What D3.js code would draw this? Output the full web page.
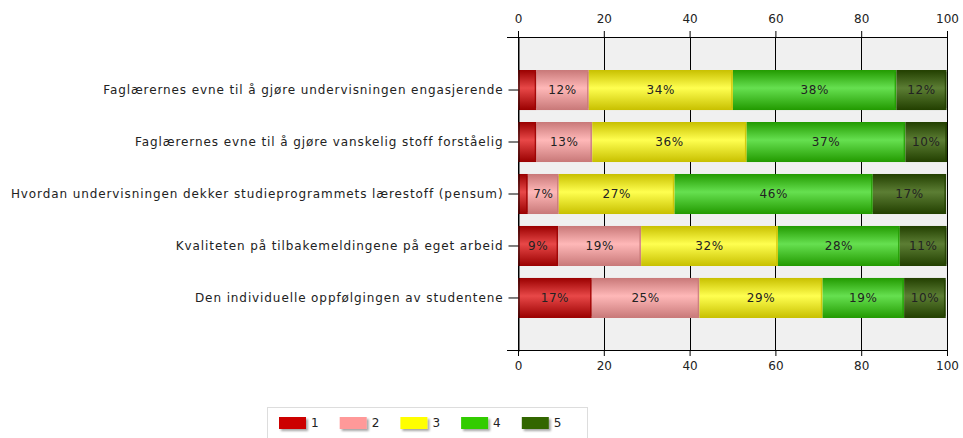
<!DOCTYPE html>
<html>
<head>
<meta charset="utf-8">
<script src="https://cdn.jsdelivr.net/npm/d3@7"></script>
<style>
  body { margin: 0; background: #fff; }
  text { font-family: "DejaVu Sans", Verdana, sans-serif; fill: #222; }
</style>
</head>
<body>
<div id="chart"></div>
<script>
// categories (top to bottom)
var categories = [
  "Faglærernes evne til å gjøre undervisningen engasjerende",
  "Faglærernes evne til å gjøre vanskelig stoff forståelig",
  "Hvordan undervisningen dekker studieprogrammets lærestoff (pensum)",
  "Kvaliteten på tilbakemeldingene på eget arbeid",
  "Den individuelle oppfølgingen av studentene"
];
// share of answers (%) per score
var score1 = [4.3, 4.3, 2.3, 9.4, 17.2];
var score2 = [12.2, 13.0, 7.2, 19.3, 25.1];
var score3 = [33.6, 36.0, 27.0, 31.9, 28.7];
var score4 = [38.1, 37.0, 46.2, 28.4, 19.0];
var score5 = [11.7, 9.7, 17.1, 10.9, 9.7];
var seriesNames = ["1", "2", "3", "4", "5"];
var xTicks = [0, 20, 40, 60, 80, 100];

var colors = ["#cc0000", "#ff9999", "#ffff00", "#33cc00", "#336600"];
var edge   = ["#9a0000", "#c87878", "#c8c000", "#229a00", "#223f00"];
var light  = ["#e84848", "#ffb8b8", "#ffff50", "#66e050", "#5c7e34"];

var width = 963, height = 438;
var margin = {top: 37, right: 16, bottom: 87, left: 518};
var w = 947 - margin.left, h = 351 - margin.top;

var rows = categories.map(function(c, i) {
  return {cat: c, "1": score1[i], "2": score2[i], "3": score3[i], "4": score4[i], "5": score5[i]};
});
var stack = d3.stack().keys(seriesNames)(rows);

var x = d3.scaleLinear().domain([0, 100]).range([0, w]);
var y = d3.scaleBand().domain(categories).range([0, h])
    .paddingInner(0.23).paddingOuter(0.635);

var svg = d3.select("#chart").append("svg")
    .attr("width", width).attr("height", height);

var defs = svg.append("defs");
seriesNames.forEach(function(s, i) {
  var g = defs.append("linearGradient").attr("id", "grad" + i)
      .attr("x1", 0).attr("y1", 0).attr("x2", 0).attr("y2", 1);
  g.append("stop").attr("offset", "0%").attr("stop-color", edge[i]);
  g.append("stop").attr("offset", "45%").attr("stop-color", light[i]);
  g.append("stop").attr("offset", "100%").attr("stop-color", edge[i]);
});
var f = defs.append("filter").attr("id", "shadow")
    .attr("x", "-20%").attr("y", "-20%").attr("width", "160%").attr("height", "180%");
f.append("feDropShadow").attr("dx", 2).attr("dy", 2).attr("stdDeviation", 1.2)
    .attr("flood-color", "#000").attr("flood-opacity", 0.35);

var g = svg.append("g")
    .attr("transform", "translate(" + margin.left + "," + margin.top + ")");

// plot background
g.append("rect").attr("width", w).attr("height", h).attr("fill", "#f0f0f0");

// vertical grid lines
g.selectAll("line.grid").data(xTicks).enter().append("line")
    .attr("class", "grid")
    .attr("x1", function(d) { return Math.round(x(d)) + 0.5; })
    .attr("x2", function(d) { return Math.round(x(d)) + 0.5; })
    .attr("y1", 0).attr("y2", h)
    .attr("stroke", "#000").attr("stroke-width", 1);

// bars
var layer = g.selectAll("g.layer").data(stack).enter().append("g")
    .attr("class", "layer");
layer.selectAll("rect").data(function(d) { return d; }).enter().append("rect")
    .attr("x", function(d) { return x(d[0]); })
    .attr("y", function(d) { return y(d.data.cat); })
    .attr("width", function(d) { return x(d[1]) - x(d[0]); })
    .attr("height", y.bandwidth())
    .attr("fill", function(d, i, n) { return "url(#grad" + stack.indexOf(d3.select(n[i].parentNode).datum()) + ")"; });

// darker segment edges
layer.selectAll("line").data(function(d) { return d; }).enter().append("line")
    .attr("x1", function(d) { return x(d[1]) - 1; })
    .attr("x2", function(d) { return x(d[1]) - 1; })
    .attr("y1", function(d) { return y(d.data.cat) + 2; })
    .attr("y2", function(d) { return y(d.data.cat) + y.bandwidth() - 2; })
    .attr("stroke", function(d, i, n) { return edge[stack.indexOf(d3.select(n[i].parentNode).datum())]; })
    .attr("stroke-opacity", 0.8)
    .attr("stroke-width", 1.5);

// value labels
layer.selectAll("text").data(function(d) { return d.filter(function(v) { return v[1] - v[0] >= 5; }); })
    .enter().append("text")
    .attr("x", function(d) { return (x(d[0]) + x(d[1])) / 2; })
    .attr("y", function(d) { return y(d.data.cat) + y.bandwidth() / 2; })
    .attr("dy", "0.35em")
    .attr("text-anchor", "middle")
    .style("font-size", "12px")
    .style("letter-spacing", "0.6px")
    .text(function(d) { return Math.round(d[1] - d[0]) + "%"; });

// axes
var xTop = d3.axisTop(x).tickValues(xTicks).tickSize(6).tickSizeOuter(0);
var xBottom = d3.axisBottom(x).tickValues(xTicks).tickSize(5).tickSizeOuter(0);
var topAxis = g.append("g").call(xTop);
var botAxis = g.append("g").attr("transform", "translate(0," + h + ")").call(xBottom);
[topAxis, botAxis].forEach(function(a) {
  a.select(".domain").remove();
  a.selectAll("text").style("font-size", "12px").attr("fill", "#222");
  a.selectAll(".tick line").attr("stroke", "#000");
});
topAxis.selectAll("text").attr("dy", "0").attr("y", -14);
botAxis.selectAll("text").attr("y", 10);

// horizontal axis lines extend left past the plot
g.append("line").attr("x1", -11).attr("x2", w + 0.5).attr("y1", 0.5).attr("y2", 0.5)
    .attr("stroke", "#000");
g.append("line").attr("x1", -11).attr("x2", w + 0.5).attr("y1", h - 0.5).attr("y2", h - 0.5)
    .attr("stroke", "#000");

var yAxis = d3.axisLeft(y).tickSize(10).tickPadding(5).tickSizeOuter(0);
var yg = g.append("g").attr("transform", "translate(0.5,0)").call(yAxis);
yg.select(".domain").attr("stroke", "#000");
yg.selectAll("text").style("font-size", "12px").style("letter-spacing", "0.9px").attr("fill", "#222");
yg.selectAll(".tick line").attr("stroke", "#000");

// legend
var legend = svg.append("g").attr("transform", "translate(267,407)");
legend.append("rect").attr("x", 0.5).attr("y", 0.5).attr("width", 320).attr("height", 40)
    .attr("fill", "#fff").attr("stroke", "#ddd");
var item = legend.selectAll("g.item").data(seriesNames).enter().append("g")
    .attr("class", "item")
    .attr("transform", function(d, i) { return "translate(" + (12 + i * 60.7) + ",10)"; });
item.append("rect").attr("width", 27).attr("height", 12)
    .attr("fill", function(d, i) { return colors[i]; })
    .attr("filter", "url(#shadow)");
item.append("text").attr("x", 32).attr("y", 6).attr("dy", "0.35em")
    .style("font-size", "12px").text(function(d) { return d; });
</script>
</body>
</html>
